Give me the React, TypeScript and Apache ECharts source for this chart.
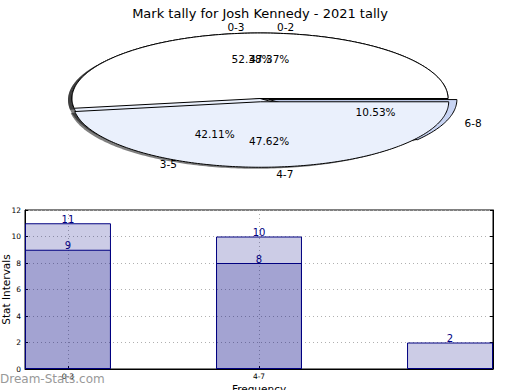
import React, { useEffect, useRef } from "react";
import * as echarts from "echarts";

const TITLE = "Mark tally for Josh Kennedy - 2021 tally";

// Pie A (drawn first, underneath)
const pieALabels = ["0-2", "3-5", "6-8"];
const pieAValues = [9, 8, 2];
// Pie B (drawn on top)
const pieBLabels = ["0-3", "4-7"];
const pieBValues = [11, 10];

// Bar chart
const barLabels = ["0-3", "4-7", ""];
const barSeriesA = [9, 8, 2];
const barSeriesB = [11, 10, null];
const yMin = 0;
const yMax = 12;
const yStep = 2;

// ---- styles / layout (not data) ----
const pieAColors = ["#ffffff", "#eaf0fc", "#c8d4f3"];
const pieAExplode = [0, 0, 0.05];
const pieBColors = ["#ffffff", "#eaf0fc"];
const pieBExplode = [0, 0.05];
const PIE = { cx: 260, cy: 98.5, rx: 188, ry: 65.5 };
const SHADOW = { dx: -4, dy: 1.5 };
const W = 520;
const H = 390;
const GRID = { left: 25, right: 27, top: 210, bottom: 21 };
const BAR_W = 0.45;
const FONT = "DejaVu Sans";
const BAR_FILL = "rgba(0,0,128,0.2)";
const NAVY = "#000080";
const GRID_LINE = { type: [1, 3] as any, color: "#b0b0b0", width: 1 };

function wedgeGeom(values: number[], explode: number[], i: number) {
  const total = values.reduce((a, b) => a + b, 0);
  let before = 0;
  for (let k = 0; k < i; k++) before += values[k];
  const a0 = (before / total) * 360;
  const a1 = ((before + values[i]) / total) * 360;
  const mid = (((a0 + a1) / 2) * Math.PI) / 180;
  const ox = PIE.cx + explode[i] * PIE.rx * Math.cos(mid);
  const oy = PIE.cy - explode[i] * PIE.ry * Math.sin(mid);
  return { total, a0, a1, mid, ox, oy };
}

function wedgePoints(g: any, sx: number, sy: number) {
  const pts: number[][] = [[g.ox + sx, g.oy + sy]];
  const n = Math.max(2, Math.ceil(g.a1 - g.a0));
  for (let j = 0; j <= n; j++) {
    const a = ((g.a0 + ((g.a1 - g.a0) * j) / n) * Math.PI) / 180;
    pts.push([g.ox + sx + PIE.rx * Math.cos(a), g.oy + sy - PIE.ry * Math.sin(a)]);
  }
  return pts;
}

function pieLayer(
  name: string,
  values: number[],
  labels: string[],
  colors: string[],
  explode: number[],
  mode: "shadow" | "wedge" | "text",
  z: number
) {
  return {
    type: "custom",
    name,
    coordinateSystem: "none",
    z,
    silent: true,
    data: values,
    renderItem: (params: any) => {
      const i = params.dataIndex;
      const g = wedgeGeom(values, explode, i);
      if (mode === "shadow") {
        return {
          type: "polygon",
          shape: { points: wedgePoints(g, SHADOW.dx, SHADOW.dy) },
          style: { fill: "rgba(0,0,0,0.5)", stroke: "none" },
        };
      }
      if (mode === "wedge") {
        return {
          type: "polygon",
          shape: { points: wedgePoints(g, 0, 0) },
          style: { fill: colors[i], stroke: "#000", lineWidth: 1 },
        };
      }
      const c = Math.cos(g.mid);
      const s = Math.sin(g.mid);
      return {
        type: "group",
        children: [
          {
            type: "text",
            x: g.ox + 1.1 * PIE.rx * c,
            y: g.oy - 1.1 * PIE.ry * s,
            style: {
              text: labels[i],
              fill: "#000",
              fontSize: 10.5,
              fontFamily: FONT,
              align: c > 0 ? "left" : "right",
              verticalAlign: "middle",
            },
          },
          {
            type: "text",
            x: g.ox + 0.6 * PIE.rx * c,
            y: g.oy - 0.6 * PIE.ry * s,
            style: {
              text: ((values[i] / g.total) * 100).toFixed(2) + "%",
              fill: "#000",
              fontSize: 10.5,
              fontFamily: FONT,
              align: "center",
              verticalAlign: "middle",
            },
          },
        ],
      };
    },
  };
}

export default function App() {
  const ref = useRef<HTMLDivElement>(null);
  useEffect(() => {
    if (!ref.current) return;
    const chart = echarts.init(ref.current, null, { renderer: "svg" });
    const xMax = barLabels.length - 1 + BAR_W;
    const plotW = W - GRID.left - GRID.right;
    const barPx = (plotW / xMax) * BAR_W;
    const xs = barLabels.map((_, i) => i + BAR_W / 2);
    const tickXs = xs.filter((_, i) => barLabels[i] !== "");
    const labelFor = (v: number) => {
      const idx = Math.round(v - BAR_W / 2);
      return barLabels[idx] ?? "";
    };
    const barSeries = (vals: (number | null)[]) => ({
      type: "bar",
      xAxisIndex: 0,
      yAxisIndex: 0,
      data: vals
        .map((v, i) => (v == null ? null : [xs[i], v]))
        .filter((d) => d != null),
      barWidth: barPx,
      barGap: "-100%",
      itemStyle: { color: BAR_FILL, borderColor: NAVY, borderWidth: 1 },
      label: {
        show: true,
        position: "top",
        distance: -1,
        color: NAVY,
        fontSize: 10,
        fontFamily: FONT,
        formatter: (p: any) => String(p.value[1]),
      },
      z: 2,
    });

    chart.setOption({
      animation: false,
      backgroundColor: "#fff",
      textStyle: { fontFamily: FONT },
      title: {
        text: TITLE,
        left: "center",
        top: 2,
        textStyle: { fontSize: 13, fontWeight: "normal", color: "#000", fontFamily: FONT },
      },
      grid: {
        left: GRID.left,
        right: GRID.right,
        top: GRID.top,
        bottom: GRID.bottom,
        containLabel: false,
        outerBoundsMode: "none",
        show: true,
        borderColor: "#000",
        borderWidth: 1,
        backgroundColor: "transparent",
      },
      xAxis: {
        type: "value",
        min: 0,
        max: xMax,
        name: "Frequency",
        nameLocation: "middle",
        nameGap: 14,
        nameMoveOverlap: false,
        nameTextStyle: { fontSize: 10.5, color: "#000", fontFamily: FONT },
        axisLine: { show: true, lineStyle: { color: "#000" } },
        axisTick: { show: true, inside: true, length: 3, customValues: tickXs, lineStyle: { color: "#000" } },
        axisLabel: {
          customValues: tickXs,
          formatter: (v: number) => labelFor(v),
          fontSize: 7.5,
          color: "#000",
          margin: 3,
          fontFamily: FONT,
        },
        splitLine: { show: true, lineStyle: GRID_LINE },
      },
      yAxis: [
        {
          type: "value",
          min: yMin,
          max: yMax,
          interval: yStep,
          name: "Stat Intervals",
          nameLocation: "middle",
          nameGap: 14,
          nameMoveOverlap: false,
          nameTextStyle: { fontSize: 10.5, color: "#000", fontFamily: FONT },
          axisLine: { show: true, lineStyle: { color: "#000" } },
          axisTick: { show: true, inside: true, length: 3, lineStyle: { color: "#000" } },
          axisLabel: { fontSize: 7.5, color: "#000", margin: 4, fontFamily: FONT },
          splitLine: { show: true, lineStyle: GRID_LINE },
        },
        {
          type: "value",
          position: "right",
          min: yMin,
          max: yMax,
          interval: yStep,
          axisLine: { show: true, lineStyle: { color: "#000" } },
          axisTick: { show: true, inside: true, length: 3, lineStyle: { color: "#000" } },
          axisLabel: { show: false },
          splitLine: { show: false },
        },
      ],
      graphic: [
        {
          type: "text",
          left: 0,
          top: 373,
          silent: true,
          style: { text: "Dream-Stats.com", fill: "#999", fontSize: 12, fontFamily: FONT },
          z: 10,
        },
      ],
      series: [
        pieLayer("shadowA", pieAValues, pieALabels, pieAColors, pieAExplode, "shadow", 1),
        pieLayer("shadowB", pieBValues, pieBLabels, pieBColors, pieBExplode, "shadow", 1),
        pieLayer("wedgeA", pieAValues, pieALabels, pieAColors, pieAExplode, "wedge", 2),
        pieLayer("wedgeB", pieBValues, pieBLabels, pieBColors, pieBExplode, "wedge", 3),
        pieLayer("textA", pieAValues, pieALabels, pieAColors, pieAExplode, "text", 4),
        pieLayer("textB", pieBValues, pieBLabels, pieBColors, pieBExplode, "text", 4),
        barSeries(barSeriesB),
        barSeries(barSeriesA),
      ],
    } as any);
    return () => chart.dispose();
  }, []);
  return (
    <div
      ref={ref}
      style={{ position: "fixed", left: 0, top: 0, width: W, height: H }}
    />
  );
}
